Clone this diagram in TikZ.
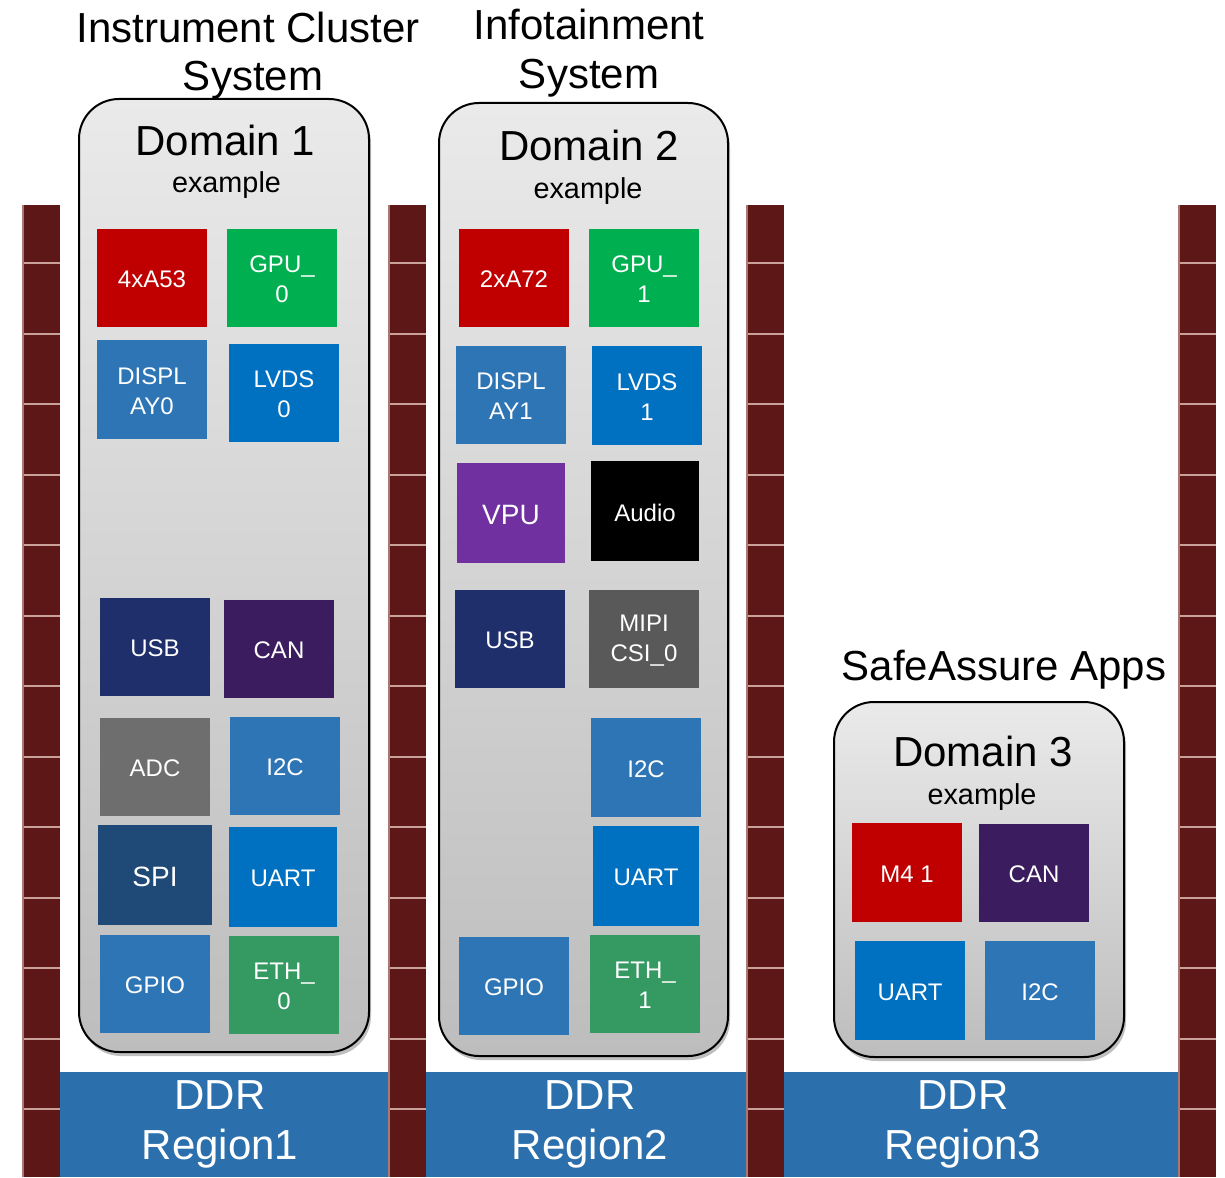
\documentclass[tikz,border=0pt]{standalone}
\usepackage{fontspec}
\setmainfont{Liberation Sans}
\usetikzlibrary{shadows}
\definecolor{cred}{HTML}{C00000}
\definecolor{cgreen}{HTML}{00B050}
\definecolor{cdisp}{HTML}{2E75B6}
\definecolor{clvds}{HTML}{0070C0}
\definecolor{cnavy}{HTML}{1F2F6B}
\definecolor{cpurp}{HTML}{3B1D5F}
\definecolor{cgray}{HTML}{6E6E6E}
\definecolor{cspi}{HTML}{1F4A78}
\definecolor{ceth}{HTML}{349A62}
\definecolor{cvpu}{HTML}{7030A0}
\definecolor{cmipi}{HTML}{595959}
\definecolor{cddr}{HTML}{2B70AD}
\definecolor{cbrick}{HTML}{5E1717}
\definecolor{cmortar}{HTML}{C9A19A}
\definecolor{cdomtop}{HTML}{EAEAEA}
\definecolor{cdombot}{HTML}{BDBDBD}
\newcommand{\blk}[7]{\node[blk,fill=#6,minimum width={(#4-#2)*0.5pt},minimum height={(#5-#3)*0.5pt}] (#1) at ({(#2+#4)/2},{(#3+#5)/2}) {};
  \node[blktxt] (#1-t) at ({(#2+#4)/2},{(#3+#5)/2+1.5}) {#7};}
\newcommand{\dombox}[5]{\node[dom,minimum width={(#4-#2)*0.5pt},minimum height={(#5-#3)*0.5pt}] (#1) at ({(#2+#4)/2},{(#3+#5)/2}) {};}
\newcommand{\pillar}[2]{\fill[cbrick] (#1,205) rectangle (#2,1177);
  \foreach \k in {0,...,12}{\draw[cmortar,line width=1pt] (#1,{263+70.5*\k}) -- (#2,{263+70.5*\k});}
  \draw[cmortar!70!cbrick,line width=1pt] (#1+1,205) -- (#1+1,1177);}
\begin{document}
\begin{tikzpicture}[x=0.5pt,y=-0.5pt,
  blk/.style={inner sep=0pt},
  blktxt/.style={inner sep=0pt,text=white,align=center,font=\fontsize{12}{15}\selectfont},
  dom/.style={draw=black,line width=1pt,rounded corners=20pt,top color=cdomtop,bottom color=cdombot,
    drop shadow={shadow xshift=1pt,shadow yshift=-2pt,opacity=0.25,fill=black}},
  big/.style={inner sep=0pt,align=center,font=\fontsize{21}{24.5}\selectfont},
  sub/.style={inner sep=0pt,font=\fontsize{14.4}{17}\selectfont},
  ddrtxt/.style={inner sep=0pt,align=center,text=white,font=\fontsize{21}{25}\selectfont}]
\useasboundingbox (0,0) rectangle (1225,1177);
% pillars
\pillar{22}{60}
\pillar{388}{426}
\pillar{746}{784}
\pillar{1178}{1216}
% DDR bars
\fill[cddr] (60,1072) rectangle (388,1177);
\fill[cddr] (426,1072) rectangle (746,1177);
\fill[cddr] (784,1072) rectangle (1178,1177);
\node[ddrtxt] (r1) at (220,1124) {DDR\\Region1};
\node[ddrtxt] (r2) at (590,1124) {DDR\\Region2};
\node[ddrtxt] (r3) at (963,1124) {DDR\\Region3};
% titles
\node[big] (t1a) at (248,27) {Instrument Cluster};
\node[big] (t1b) at (253,80) {System};
\node[big] (t2) at (589,53) {Infotainment\\System};
\node[big] (t3) at (1004,670) {SafeAssure Apps};
% domain boxes
\dombox{d1}{79}{99}{369}{1052}
\dombox{d2}{439}{103}{728}{1056}
\dombox{d3}{834}{702}{1124}{1057}
\node[big] (d1t) at (225.5,140) {Domain 1};
\node[sub] (d1s) at (226.5,185) {example};
\node[big] (d2t) at (589,145) {Domain 2};
\node[sub] (d2s) at (588,191) {example};
\node[big] (d3t) at (983,751) {Domain 3};
\node[sub] (d3s) at (982,797) {example};
% domain 1 blocks
\blk{a53}{97}{229}{207}{327}{cred}{4xA53}
\blk{gpu0}{227}{229}{337}{327}{cgreen}{GPU\_\\0}
\blk{disp0}{97}{340}{207}{439}{cdisp}{DISPL\\AY0}
\blk{lvds0}{229}{344}{339}{442}{clvds}{LVDS\\0}
\blk{usb1}{100}{598}{210}{696}{cnavy}{USB}
\blk{can1}{224}{600}{334}{698}{cpurp}{CAN}
\blk{adc1}{100}{718}{210}{816}{cgray}{ADC}
\blk{i2c1}{230}{717}{340}{815}{cdisp}{I2C}
\blk{spi1}{98}{825}{212}{925}{cspi}{\fontsize{14}{17}\selectfont SPI}
\blk{uart1}{229}{827}{337}{927}{clvds}{UART}
\blk{gpio1}{100}{935}{210}{1033}{cdisp}{GPIO}
\blk{eth0}{229}{936}{339}{1034}{ceth}{ETH\_\\0}
% domain 2 blocks
\blk{a72}{459}{229}{569}{327}{cred}{2xA72}
\blk{gpu1}{589}{229}{699}{327}{cgreen}{GPU\_\\1}
\blk{disp1}{456}{346}{566}{444}{cdisp}{DISPL\\AY1}
\blk{lvds1}{592}{346}{702}{445}{clvds}{LVDS\\1}
\blk{vpu}{457}{463}{565}{563}{cvpu}{\fontsize{14}{17}\selectfont VPU}
\blk{audio}{591}{461}{699}{561}{black}{Audio}
\blk{usb2}{455}{590}{565}{688}{cnavy}{USB}
\blk{mipi}{589}{590}{699}{688}{cmipi}{MIPI\\CSI\_0}
\blk{i2c2}{591}{718}{701}{817}{cdisp}{I2C}
\blk{uart2}{593}{826}{699}{926}{clvds}{UART}
\blk{gpio2}{459}{937}{569}{1035}{cdisp}{GPIO}
\blk{eth1}{590}{935}{700}{1033}{ceth}{ETH\_\\1}
% domain 3 blocks
\blk{m41}{852}{823}{962}{922}{cred}{M4 1}
\blk{can3}{979}{824}{1089}{922}{cpurp}{CAN}
\blk{uart3}{855}{941}{965}{1040}{clvds}{UART}
\blk{i2c3}{985}{941}{1095}{1040}{cdisp}{I2C}
\end{tikzpicture}
\end{document}
